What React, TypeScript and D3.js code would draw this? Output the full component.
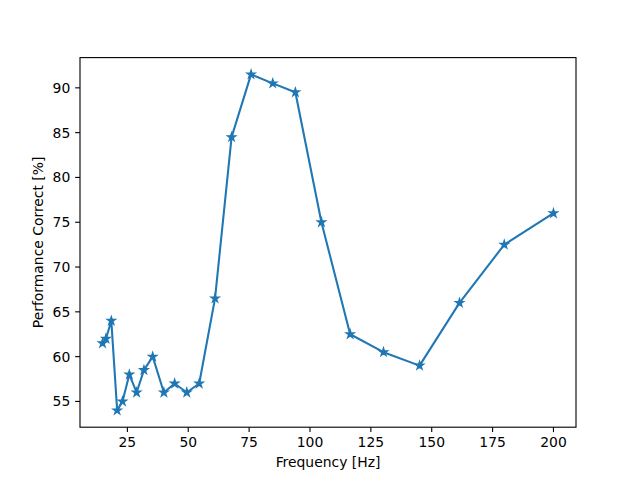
import React from "react";
import * as d3 from "d3";

const frequencies = [14.8, 16.2, 18.4, 20.8, 23, 25.8, 28.8, 31.8, 35.4, 40, 44.4, 49.4, 54.5, 61, 67.8, 75.8, 84.7, 94, 104.7, 116.5, 130.2, 145, 161.4, 179.8, 200];
const performance = [61.5, 62, 64, 54, 55, 58, 56, 58.5, 60, 56, 57, 56, 57, 66.5, 84.5, 91.5, 90.5, 89.5, 75, 62.5, 60.5, 59, 66, 72.5, 76];
const xTicks = [25, 50, 75, 100, 125, 150, 175, 200];
const yTicks = [55, 60, 65, 70, 75, 80, 85, 90];

const W = 640, H = 480;
const L = 80, R = 576, T = 57.6, B = 427.2;
const color = "#1f77b4";
const font = "DejaVu Sans, sans-serif";
const fs = 13.9;
const tickLen = 4.86;

function pad(ext: [number, number]): [number, number] {
  const r = ext[1] - ext[0];
  return [ext[0] - 0.05 * r, ext[1] + 0.05 * r];
}

function starPath(r: number): string {
  const inner = r * 0.381966;
  const pts: string[] = [];
  for (let i = 0; i < 10; i++) {
    const a = Math.PI / 2 + (i * Math.PI) / 5;
    const rr = i % 2 === 0 ? r : inner;
    pts.push(`${(rr * Math.cos(a)).toFixed(3)},${(-rr * Math.sin(a)).toFixed(3)}`);
  }
  return "M" + pts.join("L") + "Z";
}

export default function App() {
  const x = d3.scaleLinear().domain(pad(d3.extent(frequencies) as [number, number])).range([L, R]);
  const y = d3.scaleLinear().domain(pad(d3.extent(performance) as [number, number])).range([B, T]);
  const data = frequencies.map((f, i) => [f, performance[i]] as [number, number]);
  const line = d3.line<[number, number]>().x((d) => x(d[0])).y((d) => y(d[1]));
  const star = starPath(4.17);

  return (
    <svg width={W} height={H} style={{ position: "absolute", left: 0, top: 0, background: "#fff" }}>
      <rect x={0} y={0} width={W} height={H} fill="#fff" />
      <path d={line(data) || ""} fill="none" stroke={color} strokeWidth={2.08} strokeLinejoin="round" strokeLinecap="square" />
      {data.map((d, i) => (
        <path key={i} d={star} transform={`translate(${x(d[0])},${y(d[1])})`} fill={color} stroke={color} strokeWidth={1.39} strokeLinejoin="miter" />
      ))}
      <rect x={L} y={T} width={R - L} height={B - T} fill="none" stroke="#000" strokeWidth={1.11} />
      {xTicks.map((t) => (
        <g key={t} transform={`translate(${x(t)},${B})`}>
          <line y1={0} y2={tickLen} stroke="#000" strokeWidth={1.11} />
          <text y={tickLen + 4.86 + fs * 0.76} textAnchor="middle" fontFamily={font} fontSize={fs} fill="#000">{t}</text>
        </g>
      ))}
      {yTicks.map((t) => (
        <g key={t} transform={`translate(${L},${y(t)})`}>
          <line x1={0} x2={-tickLen} stroke="#000" strokeWidth={1.11} />
          <text x={-tickLen - 4.86} dy="0.36em" textAnchor="end" fontFamily={font} fontSize={fs} fill="#000">{t}</text>
        </g>
      ))}
      <text x={(L + R) / 2} y={467} textAnchor="middle" fontFamily={font} fontSize={fs} fill="#000">Frequency [Hz]</text>
      <text transform={`translate(43,${(T + B) / 2}) rotate(-90)`} textAnchor="middle" fontFamily={font} fontSize={fs} fill="#000">Performance Correct [%]</text>
    </svg>
  );
}
